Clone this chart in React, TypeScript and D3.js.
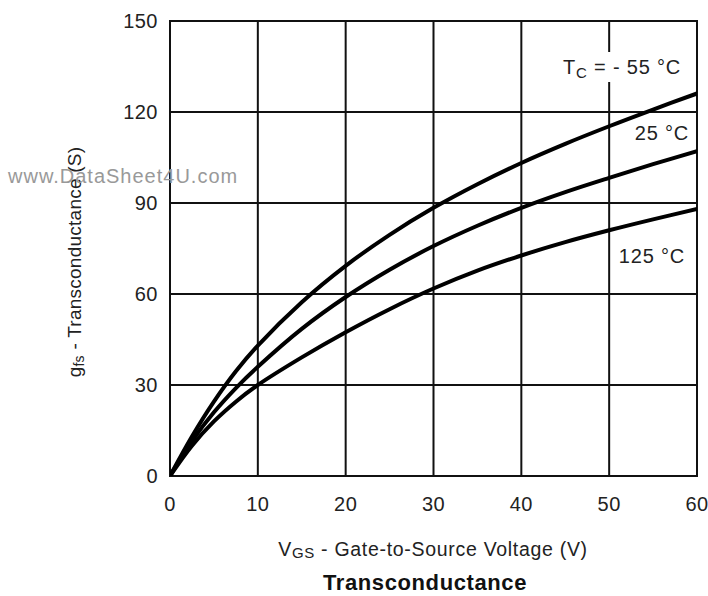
import { useEffect, useRef } from 'react'
import * as d3 from 'd3'

// gate-to-source voltage (V) sample points
const vgs = [0, 2.5, 5, 7.5, 10, 15, 20, 25, 30, 35, 40, 45, 50, 55, 60]
// transconductance (S) per case temperature
const gfsMinus55 = [0, 13, 24.5, 34.5, 43, 57.3, 69.3, 79.5, 88.4, 96.2, 103.2, 109.5, 115.3, 120.8, 126.1]
const gfs25 = [0, 11.5, 21, 29, 36, 48.5, 59, 68, 75.8, 82.5, 88.4, 93.6, 98.3, 102.8, 107.1]
const gfs125 = [0, 10, 18, 24.5, 30, 39.1, 47.4, 55, 61.8, 67.7, 72.7, 77.1, 81, 84.6, 88]

const xTicks = [0, 10, 20, 30, 40, 50, 60]
const yTicks = [0, 30, 60, 90, 120, 150]

const FONT = '"Liberation Sans", Arial, sans-serif'

export default function App() {
  const svgRef = useRef<SVGSVGElement>(null)

  useEffect(() => {
    if (!svgRef.current) return
    const svg = d3.select(svgRef.current)
    svg.selectAll('*').remove()

    const width = 708
    const height = 596
    const margin = { top: 21, right: 11, bottom: 120, left: 170 }

    const x = d3.scaleLinear().domain([0, 60]).range([margin.left, width - margin.right])
    const y = d3.scaleLinear().domain([0, 150]).range([height - margin.bottom, margin.top])

    svg.append('rect').attr('width', width).attr('height', height).attr('fill', 'white')

    // grid
    const grid = svg.append('g').attr('stroke', '#111').attr('stroke-width', 2)
    xTicks.forEach(t => {
      grid.append('line')
        .attr('x1', x(t)).attr('x2', x(t))
        .attr('y1', y(0) + 1).attr('y2', y(150) - 1)
    })
    yTicks.forEach(t => {
      grid.append('line')
        .attr('x1', x(0) - 1).attr('x2', x(60) + 1)
        .attr('y1', y(t)).attr('y2', y(t))
    })

    // tick labels
    svg.append('g')
      .selectAll('text')
      .data(yTicks)
      .enter().append('text')
      .attr('x', x(0) - 12)
      .attr('y', d => y(d))
      .attr('dy', '0.36em')
      .attr('text-anchor', 'end')
      .style('font-family', FONT)
      .style('font-size', '20px')
      .style('letter-spacing', '0.5px')
      .attr('fill', '#222')
      .text(d => d)

    svg.append('g')
      .selectAll('text')
      .data(xTicks)
      .enter().append('text')
      .attr('x', d => x(d))
      .attr('y', y(0) + 35)
      .attr('text-anchor', 'middle')
      .style('font-family', FONT)
      .style('font-size', '20px')
      .style('letter-spacing', '0.5px')
      .attr('fill', '#222')
      .text(d => d)

    // curves
    const series = [gfsMinus55, gfs25, gfs125]
    const line = d3.line<number>()
      .x((_, i) => x(vgs[i]))
      .y(d => y(d))
      .curve(d3.curveCatmullRom.alpha(0.5))

    svg.append('clipPath').attr('id', 'plot-clip')
      .append('rect')
      .attr('x', x(0)).attr('y', y(150))
      .attr('width', x(60) - x(0)).attr('height', y(0) - y(150))

    series.forEach(s => {
      svg.append('path')
        .datum(s)
        .attr('clip-path', 'url(#plot-clip)')
        .attr('fill', 'none')
        .attr('stroke', '#000')
        .attr('stroke-width', 4)
        .attr('stroke-linecap', 'round')
        .attr('d', line)
    })

    // curve labels
    const tc = svg.append('g')
      .style('font-family', FONT)
      .style('font-size', '20px')
      .style('letter-spacing', '0.8px')
      .attr('fill', '#222')
    tc.append('rect').attr('x', 560).attr('y', 52).attr('width', 124).attr('height', 30).attr('fill', 'white')
    const t1 = tc.append('text').attr('x', 681).attr('y', 74).attr('text-anchor', 'end')
    t1.append('tspan').text('T')
    t1.append('tspan').attr('dy', 4).style('font-size', '15px').text('C')
    t1.append('tspan').attr('dy', -4).text(' = - 55 °C')
    tc.append('text').attr('x', 689).attr('y', 140).attr('text-anchor', 'end').text('25 °C')
    tc.append('text').attr('x', 685).attr('y', 263).attr('text-anchor', 'end').text('125 °C')

    // axis titles
    const xt = svg.append('text')
      .attr('x', 433).attr('y', 556)
      .attr('text-anchor', 'middle')
      .style('font-family', FONT)
      .style('font-size', '19.5px')
      .style('letter-spacing', '0.7px')
      .attr('fill', '#222')
    xt.append('tspan').text('V')
    xt.append('tspan').attr('dy', 2).style('font-size', '15px').text('GS')
    xt.append('tspan').attr('dy', -2).text(' - Gate-to-Source Voltage (V)')

    const yt = svg.append('text')
      .attr('transform', `translate(81, 262) rotate(-90)`)
      .attr('text-anchor', 'middle')
      .style('font-family', FONT)
      .style('font-size', '19px')
      .style('letter-spacing', '0.25px')
      .attr('fill', '#222')
    yt.append('tspan').text('g')
    yt.append('tspan').attr('dy', 3).style('font-size', '14px').text('fs')
    yt.append('tspan').attr('dy', -3).text(' - Transconductance (S)')

    svg.append('text')
      .attr('x', 425).attr('y', 590)
      .attr('text-anchor', 'middle')
      .style('font-family', FONT)
      .style('font-size', '22px')
      .style('letter-spacing', '0.6px')
      .style('font-weight', 'bold')
      .attr('fill', '#111')
      .text('Transconductance')

    // watermark
    svg.append('text')
      .attr('x', 8).attr('y', 183)
      .style('font-family', FONT)
      .style('font-size', '20px')
      .style('letter-spacing', '1px')
      .attr('fill', '#999')
      .text('www.DataSheet4U.com')
  }, [])

  return (
    <svg
      ref={svgRef}
      width={708}
      height={596}
      style={{ position: 'absolute', left: 0, top: 0, display: 'block' }}
    />
  )
}
